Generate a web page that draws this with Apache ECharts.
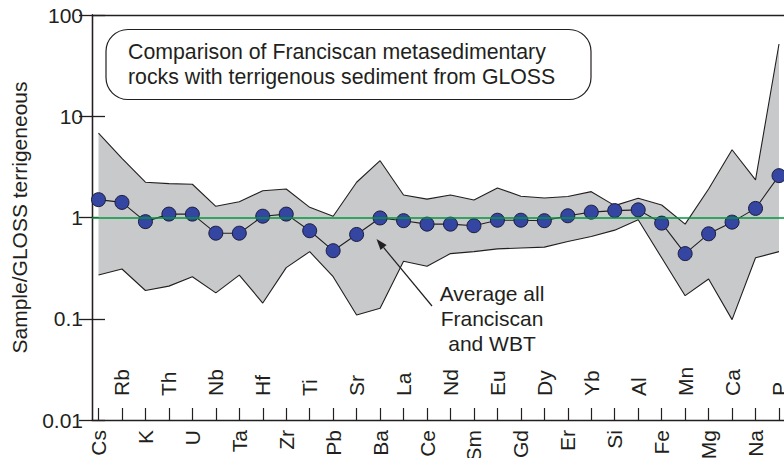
<!DOCTYPE html>
<html><head><meta charset="utf-8">
<script src="https://cdn.jsdelivr.net/npm/echarts@6/dist/echarts.min.js"></script>
<style>html,body{margin:0;padding:0;background:#fff}#c{width:784px;height:458px}</style>
</head><body><div id="c"></div>
<script>
const elements = ['Cs','Rb','K','Th','U','Nb','Ta','Hf','Zr','Ti','Pb','Sr','Ba','La','Ce','Nd','Sm','Eu','Gd','Dy','Er','Yb','Si','Al','Fe','Mn','Mg','Ca','Na','P'];
const averageAll = [1.50,1.41,0.91,1.08,1.08,0.70,0.70,1.03,1.08,0.74,0.47,0.68,0.99,0.93,0.86,0.86,0.83,0.94,0.94,0.93,1.04,1.13,1.17,1.19,0.88,0.44,0.69,0.90,1.23,2.59];
const upperRange = [6.8,3.84,2.23,2.16,2.13,1.29,1.43,1.84,1.91,1.26,1.03,2.23,3.64,1.67,1.52,1.67,1.49,1.96,1.62,1.56,1.61,1.80,1.31,1.55,1.33,0.86,1.91,4.67,2.35,51.7];
const lowerRange = [0.27,0.31,0.19,0.21,0.26,0.18,0.27,0.143,0.32,0.46,0.26,0.109,0.127,0.37,0.33,0.44,0.46,0.49,0.50,0.51,0.58,0.65,0.75,0.95,0.40,0.169,0.247,0.098,0.40,0.46];
const yTickLabels = ['0.01','0.1','1','10','100'];
const referenceLevel = 1;
const boxTitle = ['Comparison of Franciscan metasedimentary','rocks with terrigenous sediment from GLOSS'];
const arrowNote = ['Average all','Franciscan','and WBT'];
const yTitle = 'Sample/GLOSS terrigeneous';

const FONT = '"Liberation Sans", Arial, Helvetica, sans-serif';
const FS = 21;
const FS_BOX = 21.3;
const INK = '#231f20';

const chart = echarts.init(document.getElementById('c'), null, {renderer: 'svg'});

function yLabel(v) {
  const idx = Math.round(Math.log10(v)) + 2;
  return yTickLabels[idx] !== undefined ? yTickLabels[idx] : '';
}

const option = {
  backgroundColor: '#ffffff',
  animation: false,
  grid: [
    {left: 92, top: 15, width: 698, height: 405, outerBoundsMode: 'none', containLabel: false},
    {left: 98.5, top: 15, width: 680.5, height: 405, outerBoundsMode: 'none', containLabel: false}
  ],
  xAxis: [
    {type: 'value', gridIndex: 0, position: 'bottom', min: 0, max: 1,
     axisLine: {show: true, lineStyle: {color: INK, width: 1.3}}, axisTick: {show: false},
     axisLabel: {show: false}, splitLine: {show: false}},
    {type: 'value', gridIndex: 0, position: 'top', min: 0, max: 1,
     axisLine: {show: true, onZero: false, lineStyle: {color: INK, width: 1.3}}, axisTick: {show: false},
     axisLabel: {show: false}, splitLine: {show: false}},
    {type: 'category', gridIndex: 1, position: 'bottom', data: elements, boundaryGap: false,
     axisLine: {show: false},
     axisTick: {show: true, inside: true, length: 12, interval: 0, alignWithLabel: true, lineStyle: {color: INK, width: 1.2}},
     axisLabel: {show: true, rotate: 90, margin: 10, interval: function (i) { return i % 2 === 0; },
       color: INK, fontSize: FS, fontFamily: FONT, hideOverlap: false},
     splitLine: {show: false}},
    {type: 'category', gridIndex: 1, position: 'bottom', data: elements, boundaryGap: false,
     axisLine: {show: false}, axisTick: {show: false},
     axisLabel: {show: true, inside: true, rotate: 90, margin: 24, interval: function (i) { return i % 2 === 1; },
       color: INK, fontSize: FS, fontFamily: FONT, hideOverlap: false},
     splitLine: {show: false}}
  ],
  yAxis: [
    {type: 'log', gridIndex: 0, position: 'left', min: 0.01, max: 100, logBase: 10,
     name: yTitle, nameLocation: 'middle', nameGap: 62, nameRotate: 90,
     nameTextStyle: {color: INK, fontSize: FS, fontFamily: FONT},
     axisLine: {show: true, lineStyle: {color: INK, width: 1.3}},
     axisTick: {show: true, inside: true, length: 13, lineStyle: {color: INK, width: 1.3}},
     minorTick: {show: false},
     axisLabel: {show: true, margin: 9, color: INK, fontSize: FS, fontFamily: FONT, formatter: yLabel},
     splitLine: {show: false}},
    {type: 'log', gridIndex: 0, position: 'right', min: 0.01, max: 100, logBase: 10,
     axisLine: {show: true, lineStyle: {color: INK, width: 1.3}},
     axisTick: {show: true, inside: true, length: 13, lineStyle: {color: INK, width: 1.3}},
     axisLabel: {show: false}, splitLine: {show: false}},
    {type: 'log', gridIndex: 1, min: 0.01, max: 100, logBase: 10, show: false,
     axisLine: {show: false}, axisTick: {show: false}, axisLabel: {show: false}, splitLine: {show: false}}
  ],
  series: [
    {
      name: 'range', type: 'custom', xAxisIndex: 2, yAxisIndex: 2, z: 1, silent: true,
      data: elements.map(function (c, i) { return [i, lowerRange[i], upperRange[i]]; }),
      encode: {x: 0, y: [1, 2]},
      renderItem: function (params, api) {
        if (params.dataIndex !== 0) return null;
        const pts = [];
        for (let i = 0; i < elements.length; i++) pts.push(api.coord([i, upperRange[i]]));
        for (let i = elements.length - 1; i >= 0; i--) pts.push(api.coord([i, lowerRange[i]]));
        return {type: 'polygon', shape: {points: pts}, style: {fill: '#c8c9cb', stroke: null}};
      }
    },
    {name: 'upper', type: 'line', xAxisIndex: 2, yAxisIndex: 2, data: upperRange, z: 2,
     symbol: 'none', silent: true, lineStyle: {color: INK, width: 1.1}},
    {name: 'lower', type: 'line', xAxisIndex: 2, yAxisIndex: 2, data: lowerRange, z: 2,
     symbol: 'none', silent: true, lineStyle: {color: INK, width: 1.1}},
    {name: 'ref', type: 'line', xAxisIndex: 0, yAxisIndex: 0, data: [], z: 3, silent: true,
     markLine: {silent: true, symbol: 'none', label: {show: false}, animation: false,
       lineStyle: {color: '#00973d', width: 1.6, type: 'solid'},
       emphasis: {disabled: true},
       data: [{yAxis: referenceLevel}]}},
    {name: 'Average all Franciscan and WBT', type: 'line', xAxisIndex: 2, yAxisIndex: 2, data: averageAll, z: 4,
     symbol: 'circle', symbolSize: 14, showAllSymbol: true, silent: true,
     lineStyle: {color: INK, width: 1.1},
     itemStyle: {color: '#3445a2', borderColor: '#1c1c3a', borderWidth: 1}}
  ],
  graphic: [
    {type: 'rect', z: 10, shape: {x: 106, y: 29.5, width: 485, height: 70, r: 22},
     style: {fill: '#ffffff', stroke: INK, lineWidth: 1.2}},
    {type: 'text', z: 11, x: 128, y: 52, style: {text: boxTitle[0], fill: INK, fontSize: FS_BOX, fontFamily: FONT, align: 'left', verticalAlign: 'middle'}},
    {type: 'text', z: 11, x: 128, y: 77, style: {text: boxTitle[1], fill: INK, fontSize: FS_BOX, fontFamily: FONT, align: 'left', verticalAlign: 'middle'}},
    {type: 'text', z: 11, x: 492, y: 293, style: {text: arrowNote[0], fill: INK, fontSize: FS, fontFamily: FONT, align: 'center', verticalAlign: 'middle'}},
    {type: 'text', z: 11, x: 492, y: 318, style: {text: arrowNote[1], fill: INK, fontSize: FS, fontFamily: FONT, align: 'center', verticalAlign: 'middle'}},
    {type: 'text', z: 11, x: 492, y: 343, style: {text: arrowNote[2], fill: INK, fontSize: FS, fontFamily: FONT, align: 'center', verticalAlign: 'middle'}},
    {type: 'line', z: 11, shape: {x1: 432, y1: 306, x2: 383.5, y2: 247.4}, style: {stroke: INK, lineWidth: 1.2}},
    {type: 'polygon', z: 11, shape: {points: [[376.5, 239], [386.6, 244.9], [380.5, 250.0]]}, style: {fill: INK}}
  ]
};
chart.setOption(option);
</script></body></html>
